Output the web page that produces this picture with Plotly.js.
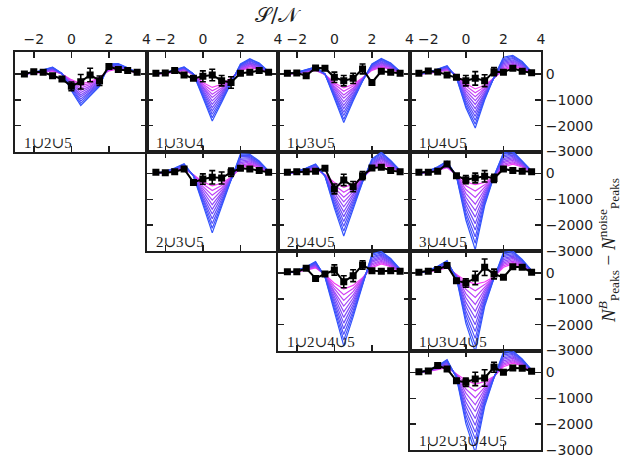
<!DOCTYPE html>
<html>
<head>
<meta charset="utf-8">
<script src="https://cdn.plot.ly/plotly-3.0.1.min.js"></script>
<style>
  html, body { margin: 0; padding: 0; background: #ffffff; }
  #chart { width: 644px; height: 462px; }
</style>
</head>
<body>
<div id="chart"></div>
<script>
// S/N bin centres shared by every panel
const snBins = [-2.5, -2, -1.5, -1, -0.5, 0, 0.5, 1, 1.5, 2, 2.5, 3, 3.5];

// Observed peak-count differences and their errors, one pair per combination
const obs125 = [0, 90, 65, -65, -195, -480, -300, -40, -260, 290, 170, 130, 65];
const err125 = [40, 40, 40, 40, 50, 170, 280, 260, 180, 50, 50, 40, 40];
const obs134 = [25, 40, 130, -40, -170, -90, -40, -260, -330, 25, 65, 130, 65];
const err134 = [40, 40, 40, 40, 50, 210, 220, 200, 220, 50, 50, 40, 40];
const obs135 = [25, 40, -65, 235, 220, -130, -260, -170, 195, -330, 105, 65, 25];
const err135 = [40, 40, 40, 40, 50, 200, 200, 200, 190, 50, 50, 40, 40];
const obs145 = [25, 115, 80, -40, -130, -260, -170, -260, 90, 65, 220, 105, 50];
const err145 = [40, 40, 40, 40, 50, 200, 260, 230, 160, 50, 50, 40, 40];
const obs235 = [45, 30, 70, 175, -345, -215, -150, -175, 45, 200, 175, 110, 45];
const err235 = [40, 40, 40, 40, 50, 200, 260, 230, 160, 50, 50, 40, 40];
const obs245 = [45, 70, 70, 85, 200, -600, -250, -510, -85, 215, 240, 110, 70];
const err245 = [40, 40, 40, 40, 50, 190, 220, 200, 160, 50, 50, 40, 40];
const obs345 = [45, 45, 85, 370, -85, -240, -175, -110, -190, 175, 110, 85, 70];
const err345 = [40, 40, 40, 40, 50, 160, 190, 220, 160, 50, 50, 40, 40];
const obs1245 = [50, 50, 180, -210, -40, 115, -340, -105, 310, 90, 65, 90, 65];
const err1245 = [40, 40, 40, 40, 50, 200, 230, 230, 160, 50, 50, 40, 40];
const obs1345 = [25, 65, 130, 285, -300, -390, -195, 220, -40, -170, 245, 220, 25];
const err1345 = [40, 40, 40, 40, 50, 160, 260, 320, 190, 50, 50, 40, 40];
const obs12345 = [30, 60, 265, 135, -320, -380, -250, -215, 200, 5, 175, 160, 45];
const err12345 = [40, 40, 40, 40, 50, 160, 260, 320, 190, 50, 50, 40, 40];

// Model predictions, ordered from the weakest signal to the strongest
const mod125 = [
  [0,20,60,120,0,-220,-380,-300,-120,120,200,140,40],
  [0,20,70,130,0,-260,-460,-360,-160,150,220,150,40],
  [0,30,80,150,0,-310,-550,-410,-190,170,240,160,40],
  [0,30,90,160,10,-350,-630,-470,-230,200,260,170,50],
  [0,30,100,180,10,-390,-720,-520,-260,230,280,180,50],
  [0,40,110,190,10,-440,-800,-580,-300,260,300,190,50],
  [0,40,120,200,10,-480,-880,-630,-340,280,320,200,50],
  [0,40,130,220,10,-520,-970,-690,-370,310,340,210,50],
  [0,40,140,230,20,-560,-1050,-740,-410,340,360,220,60],
  [0,50,150,250,20,-610,-1140,-800,-440,360,380,230,60],
  [0,50,160,260,20,-650,-1220,-850,-480,390,400,240,60]
];
const mod134 = [
  [0,20,70,140,-20,-330,-520,-400,-160,130,240,180,40],
  [0,20,80,150,-20,-390,-650,-470,-180,160,280,200,50],
  [0,30,90,170,-20,-440,-780,-540,-200,180,310,230,50],
  [0,30,100,180,-10,-500,-910,-610,-230,210,350,250,60],
  [0,30,110,190,-10,-550,-1040,-680,-250,230,380,280,60],
  [0,40,120,210,-10,-610,-1170,-750,-270,260,420,300,70],
  [0,40,120,220,-10,-660,-1300,-820,-290,290,450,320,80],
  [0,40,130,230,-10,-720,-1430,-890,-310,310,490,350,80],
  [0,40,140,240,0,-770,-1560,-960,-340,340,520,370,90],
  [0,50,150,260,0,-830,-1690,-1030,-360,360,560,400,90],
  [0,50,160,270,0,-880,-1820,-1100,-380,390,590,420,100]
];
const mod135 = [
  [0,20,70,140,-20,-340,-540,-410,-150,140,260,190,40],
  [0,20,80,150,-20,-400,-670,-470,-160,170,290,210,50],
  [0,30,90,170,-20,-470,-810,-540,-180,190,330,240,50],
  [0,30,100,180,-10,-530,-940,-600,-190,220,360,260,60],
  [0,40,110,190,-10,-590,-1080,-670,-200,240,400,280,60],
  [0,40,120,210,-10,-660,-1210,-730,-220,270,430,310,70],
  [0,40,130,220,-10,-720,-1340,-790,-230,290,460,330,80],
  [0,50,140,230,-10,-780,-1480,-860,-240,320,500,350,80],
  [0,50,150,240,0,-840,-1610,-920,-250,340,530,370,90],
  [0,60,160,260,0,-910,-1750,-990,-270,370,570,400,90],
  [0,60,170,270,0,-970,-1880,-1050,-280,390,600,420,100]
];
const mod145 = [
  [0,20,80,150,-40,-370,-580,-440,-160,150,280,200,40],
  [0,20,90,170,-50,-460,-730,-500,-160,200,320,230,40],
  [0,30,100,180,-60,-560,-880,-550,-150,250,370,260,50],
  [0,30,110,200,-70,-650,-1030,-610,-150,300,410,280,50],
  [0,40,120,220,-80,-750,-1180,-670,-150,350,460,310,60],
  [0,40,140,240,-100,-840,-1340,-730,-150,400,500,340,60],
  [0,40,150,250,-110,-930,-1490,-780,-140,450,540,370,60],
  [0,50,160,270,-120,-1030,-1640,-840,-140,500,590,400,70],
  [0,50,170,290,-130,-1120,-1790,-900,-140,550,630,420,70],
  [0,60,180,300,-140,-1220,-1940,-950,-130,600,680,450,80],
  [0,60,190,320,-150,-1310,-2090,-1010,-130,650,720,480,80]
];
const mod235 = [
  [0,30,90,180,-50,-320,-480,-380,-150,200,320,220,40],
  [0,40,100,200,-60,-410,-660,-470,-160,260,360,250,50],
  [0,40,110,220,-60,-500,-840,-560,-180,310,400,270,50],
  [0,50,130,240,-70,-590,-1030,-650,-190,370,450,300,60],
  [0,50,140,260,-70,-680,-1210,-740,-210,420,490,320,60],
  [0,60,150,280,-80,-780,-1390,-830,-220,480,530,350,70],
  [0,60,160,300,-80,-870,-1570,-920,-230,540,570,380,80],
  [0,70,170,320,-90,-960,-1750,-1010,-250,590,610,400,80],
  [0,70,190,340,-90,-1050,-1940,-1100,-260,650,660,430,90],
  [0,80,200,360,-100,-1140,-2120,-1190,-280,700,700,450,90],
  [0,80,210,380,-100,-1230,-2300,-1280,-290,760,740,480,100]
];
const mod245 = [
  [0,30,90,180,-50,-350,-540,-420,-160,160,330,230,40],
  [0,40,100,200,-60,-450,-730,-510,-180,200,380,260,50],
  [0,40,110,220,-60,-550,-920,-600,-200,240,430,280,60],
  [0,50,130,240,-70,-650,-1100,-700,-210,280,480,310,60],
  [0,50,140,260,-70,-750,-1290,-790,-230,320,530,340,70],
  [0,60,150,280,-80,-850,-1480,-880,-250,360,580,370,80],
  [0,60,160,290,-80,-940,-1670,-970,-270,400,620,390,90],
  [0,70,170,310,-90,-1040,-1860,-1060,-290,440,670,420,100],
  [0,70,190,330,-90,-1140,-2040,-1160,-300,480,720,450,100],
  [0,80,200,350,-100,-1240,-2230,-1250,-320,520,770,470,110],
  [0,80,210,370,-100,-1340,-2420,-1340,-340,560,820,500,120]
];
const mod345 = [
  [0,40,120,220,-40,-330,-430,-350,-140,250,360,250,40],
  [0,50,130,250,-50,-480,-680,-440,-140,310,410,280,50],
  [0,50,150,270,-60,-620,-930,-530,-130,360,460,300,50],
  [0,60,160,300,-60,-770,-1190,-620,-130,420,510,330,60],
  [0,60,180,320,-70,-920,-1440,-710,-120,470,560,350,60],
  [0,70,190,350,-80,-1070,-1690,-800,-120,530,610,380,70],
  [0,70,200,380,-90,-1210,-1940,-890,-120,580,660,400,80],
  [0,80,220,400,-100,-1360,-2190,-980,-110,640,710,430,80],
  [0,80,230,430,-100,-1510,-2450,-1070,-110,690,760,450,90],
  [0,90,250,450,-110,-1650,-2700,-1160,-100,750,810,480,90],
  [0,90,260,480,-120,-1800,-2950,-1250,-100,800,860,500,100]
];
const mod1245 = [
  [0,40,110,200,-60,-400,-620,-480,-180,200,350,240,40],
  [0,50,120,220,-70,-510,-840,-600,-210,250,400,270,50],
  [0,50,140,250,-80,-610,-1060,-720,-230,310,450,300,60],
  [0,60,150,270,-90,-720,-1280,-850,-260,360,490,340,70],
  [0,60,160,300,-100,-820,-1500,-970,-280,420,540,370,80],
  [0,70,180,320,-110,-930,-1720,-1090,-310,470,590,400,100],
  [0,70,190,340,-120,-1030,-1940,-1210,-340,520,640,430,110],
  [0,80,200,370,-130,-1140,-2160,-1330,-360,580,690,460,120],
  [0,80,210,390,-140,-1240,-2380,-1460,-390,630,730,500,130],
  [0,90,230,420,-150,-1350,-2600,-1580,-410,690,780,530,140],
  [0,90,240,440,-160,-1450,-2820,-1700,-440,740,830,560,150]
];
const mod1345 = [
  [0,40,110,200,-60,-300,-430,-350,-150,220,360,250,40],
  [0,50,130,230,-70,-470,-690,-450,-160,280,410,280,50],
  [0,50,140,260,-90,-630,-950,-540,-160,340,460,300,50],
  [0,60,160,280,-100,-800,-1220,-640,-170,390,510,330,60],
  [0,60,170,310,-120,-960,-1480,-730,-170,450,560,360,60],
  [0,70,190,340,-130,-1130,-1740,-830,-180,510,610,390,70],
  [0,70,200,370,-140,-1290,-2000,-920,-180,570,650,410,80],
  [0,80,220,400,-160,-1460,-2260,-1020,-190,630,700,440,80],
  [0,80,230,420,-170,-1620,-2530,-1110,-190,680,750,470,90],
  [0,90,250,450,-190,-1790,-2790,-1210,-200,740,800,490,90],
  [0,90,260,480,-200,-1950,-3050,-1300,-200,800,850,520,100]
];
const mod12345 = [
  [0,40,110,200,-60,-300,-450,-360,-150,220,360,250,40],
  [0,50,130,230,-70,-470,-720,-460,-160,280,410,280,50],
  [0,50,140,260,-90,-640,-980,-550,-160,330,460,300,50],
  [0,60,160,290,-100,-800,-1250,-650,-170,390,500,330,60],
  [0,60,170,320,-120,-970,-1510,-740,-170,450,550,360,60],
  [0,70,190,350,-130,-1140,-1780,-840,-180,510,600,390,70],
  [0,70,200,380,-140,-1310,-2040,-940,-180,560,650,410,80],
  [0,80,220,410,-160,-1480,-2310,-1030,-190,620,700,440,80],
  [0,80,230,440,-170,-1640,-2570,-1130,-190,680,740,470,90],
  [0,90,250,470,-190,-1810,-2840,-1220,-200,730,790,490,90],
  [0,90,260,500,-200,-1980,-3100,-1320,-200,790,840,520,100]
];

const panelLabels = ['1∪2∪5', '1∪3∪4', '1∪3∪5', '1∪4∪5', '2∪3∪5', '2∪4∪5',
                     '3∪4∪5', '1∪2∪4∪5', '1∪3∪4∪5', '1∪2∪3∪4∪5'];
const yTickVals = [-3000, -2000, -1000, 0];
const xTickVals = [-2, 0, 2, 4];

// grid cell [column, row] of each panel in the triangular layout
const panelCells = [[0,0],[1,0],[2,0],[3,0],[1,1],[2,1],[3,1],[2,2],[3,2],[3,3]];
const panelObs = [obs125, obs134, obs135, obs145, obs235, obs245, obs345, obs1245, obs1345, obs12345];
const panelErr = [err125, err134, err135, err145, err235, err245, err345, err1245, err1345, err12345];
const panelMod = [mod125, mod134, mod135, mod145, mod235, mod245, mod345, mod1245, mod1345, mod12345];

const inkColor = '#1e1e1e';
const weakColor = [245, 62, 245];   // magenta for the weakest model
const strongColor = [52, 84, 252];  // blue for the strongest model
function modelColor(t) {
  const s = Math.pow(t, 0.75);
  const c = weakColor.map((w, i) => Math.round(w + (strongColor[i] - w) * s));
  return 'rgb(' + c.join(',') + ')';
}

const traces = [];
const layout = {
  width: 644, height: 462,
  margin: { l: 15, r: 103, t: 52, b: 12 },
  paper_bgcolor: '#ffffff', plot_bgcolor: '#ffffff',
  showlegend: false,
  annotations: []
};

const nCols = 4, nRows = 4;
panelCells.forEach((cell, i) => {
  const col = cell[0], row = cell[1];
  const n = i + 1;
  const xa = n === 1 ? 'x' : 'x' + n;
  const ya = n === 1 ? 'y' : 'y' + n;
  const xKey = n === 1 ? 'xaxis' : 'xaxis' + n;
  const yKey = n === 1 ? 'yaxis' : 'yaxis' + n;

  const models = panelMod[i];
  models.forEach((curve, k) => {
    traces.push({
      x: snBins, y: curve, xaxis: xa, yaxis: ya,
      type: 'scatter', mode: 'lines',
      line: { color: modelColor(k / (models.length - 1)), width: 1.2 },
      hoverinfo: 'skip'
    });
  });

  traces.push({
    x: snBins, y: panelObs[i], xaxis: xa, yaxis: ya,
    type: 'scatter', mode: 'lines+markers',
    line: { color: '#000000', width: 2 },
    marker: { symbol: 'square', size: 7, color: '#000000' },
    error_y: { type: 'data', array: panelErr[i], visible: true,
               color: '#000000', thickness: 1.6, width: 3 }
  });

  const common = {
    showgrid: false, zeroline: false, showline: true,
    linecolor: inkColor, linewidth: 2, mirror: 'ticks',
    ticks: 'inside', ticklen: 6, tickwidth: 1.5, tickcolor: inkColor,
    tickfont: { family: 'DejaVu Sans', size: 14, color: inkColor },
    fixedrange: true
  };

  layout[xKey] = Object.assign({}, common, {
    domain: [col / nCols, (col + 1) / nCols],
    range: [-3, 4], anchor: ya,
    tickmode: 'array', tickvals: xTickVals,
    side: 'top', showticklabels: row === 0
  });
  layout[yKey] = Object.assign({}, common, {
    domain: [1 - (row + 1) / nRows, 1 - row / nRows],
    range: [-3000, 850], anchor: xa,
    tickmode: 'array', tickvals: yTickVals,
    side: 'right', showticklabels: col === nCols - 1
  });

  layout.annotations.push({
    text: panelLabels[i], xref: xa, yref: ya, x: -3, y: -3000,
    xanchor: 'left', yanchor: 'bottom', xshift: 7, yshift: -1,
    showarrow: false,
    font: { family: 'Liberation Serif, DejaVu Serif, serif', size: 15, color: inkColor }
  });
});

// axis titles
layout.annotations.push({
  text: '𝒮/𝒩', xref: 'paper', yref: 'paper', x: 0.5, y: 1,
  xanchor: 'center', yanchor: 'middle', yshift: 37, showarrow: false,
  font: { family: 'DejaVu Serif, Liberation Serif, serif', size: 21, color: inkColor }
});
layout.annotations.push({
  text: '<i>N</i><sup><i>B</i></sup><sub>Peaks</sub> − <i>N</i><sup>noise</sup><sub>Peaks</sub>',
  xref: 'paper', yref: 'paper', x: 1, y: 0.5,
  xanchor: 'center', yanchor: 'middle', xshift: 67, textangle: -90, showarrow: false,
  font: { family: 'Liberation Serif, DejaVu Serif, serif', size: 19, color: inkColor }
});

Plotly.newPlot('chart', traces, layout, { displayModeBar: false, staticPlot: true });
</script>
</body>
</html>
